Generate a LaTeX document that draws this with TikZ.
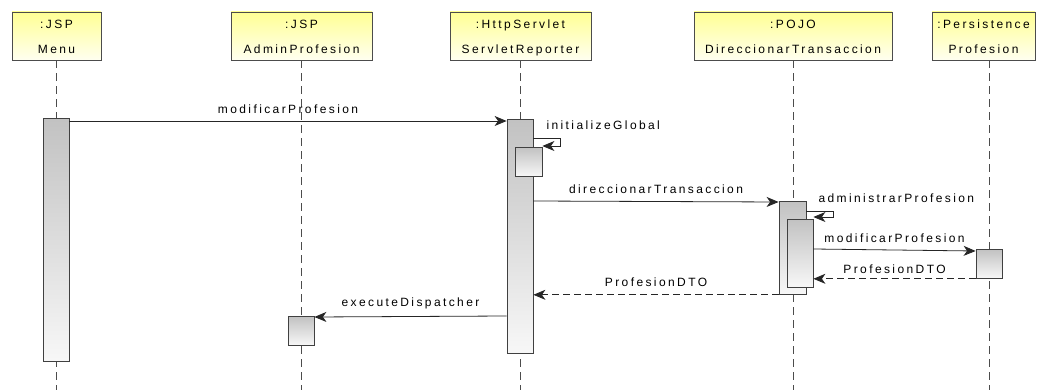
\documentclass[tikz,border=0pt]{standalone}
\usepackage{fontspec}
\newfontfamily\umlfont[LetterSpace=20]{Liberation Sans}
\usetikzlibrary{arrows.meta, positioning}

\begin{document}
\begin{tikzpicture}[x=1pt,y=-1pt,on grid,>={Stealth[length=12pt,width=10pt,inset=3.5pt]},
    every node/.style={font=\umlfont\fontsize{12}{25}\selectfont},
    head/.style={draw=black!70,line width=0.8pt,align=center,minimum height=48,inner sep=0pt,
      text height=40pt,text depth=4pt,top color=yellow!42,bottom color=yellow!6},
    life/.style={draw=black!70,line width=0.7pt,dash pattern=on 8pt off 5pt},
    act/.style={draw=black!75,line width=0.8pt,minimum width=26,inner sep=0pt,anchor=north,
      top color=black!24,bottom color=black!3},
    msg/.style={->,draw=black!85,line width=0.8pt},
    ret/.style={->,draw=black!85,line width=0.8pt,dash pattern=on 7pt off 4pt}]
  \useasboundingbox[fill=white] (0,0) rectangle (1039,390);
  \coordinate (bot) at (0,390);

  % objects
  \node[head,minimum width=89]  (menu) at (56.5,36) {:JSP\\Menu};
  \node[head,minimum width=141] (admin) [right=245pt of menu] {:JSP\\AdminProfesion};
  \node[head,minimum width=141] (servlet) [right=219pt of admin] {:HttpServlet\\ServletReporter};
  \node[head,minimum width=198] (pojo) [right=272.5pt of servlet] {:POJO\\DireccionarTransaccion};
  \node[head,minimum width=103] (pers) [right=190.5pt of pojo] {:Persistence\\Profesion};

  % lifelines
  \foreach \n in {menu,admin,servlet,pojo}
    \draw[life] (\n.south) -- (\n.south |- bot);
  \draw[life] ([xshift=5.5pt]pers.south) -- ([xshift=5.5pt]pers.south |- bot);

  % activations
  \node[act,minimum height=243] (b_menu) at (56,118) {};
  \node[act,minimum height=234] (b_serv) at (520,119) {};
  \node[act,minimum width=27,minimum height=29] (b_init) at (528.5,147) {};
  \node[act,minimum width=27,minimum height=93] (b_pojo) at (792.5,201) {};
  \node[act,minimum height=68] (b_nest) at (800,219) {};
  \node[act,minimum height=29] (b_pers) at (989,249) {};
  \node[act,minimum height=29] (b_admin) at (301,316) {};

  % messages
  \draw[msg] ([yshift=-3pt]b_menu.north east) -- ([yshift=-2pt]b_serv.north west)
    node[midway,above=4pt] (t_mod) {modificarProfesion};
  \draw[msg] ([yshift=-19pt]b_serv.north east) -- ++(27,0) |- ([yshift=1pt]b_init.north east);
  \node[anchor=west] (t_init) at (543,125) {initializeGlobal};
  \draw[msg] (b_serv.east |- b_pojo.north west) -- ([yshift=-1pt]b_pojo.north west)
    node[midway,above=4pt] (t_dir) {direccionarTransaccion};
  \draw[msg] ([yshift=-10pt]b_pojo.north east) -- ++(27,0) |- ([yshift=2pt]b_nest.north east);
  \node[anchor=west] (t_adm) at (815,198) {administrarProfesion};
  \draw[msg] (b_nest.east |- b_pers.north west) -- ([yshift=-2pt]b_pers.north west)
    node[midway,above=4pt] (t_mod2) {modificarProfesion};
  \draw[ret] (b_pers.south west) -- (b_nest.east |- b_pers.south west)
    node[midway,above=1pt] (t_dto) {ProfesionDTO};
  \draw[ret] (b_pojo.south west) -- (b_serv.east |- b_pojo.south west)
    node[midway,above=4pt] (t_dto2) {ProfesionDTO};
  \draw[msg] (b_serv.west |- b_admin.north east) -- ([yshift=-1pt]b_admin.north east)
    node[midway,above=4pt] (t_exe) {executeDispatcher};
\end{tikzpicture}
\end{document}
